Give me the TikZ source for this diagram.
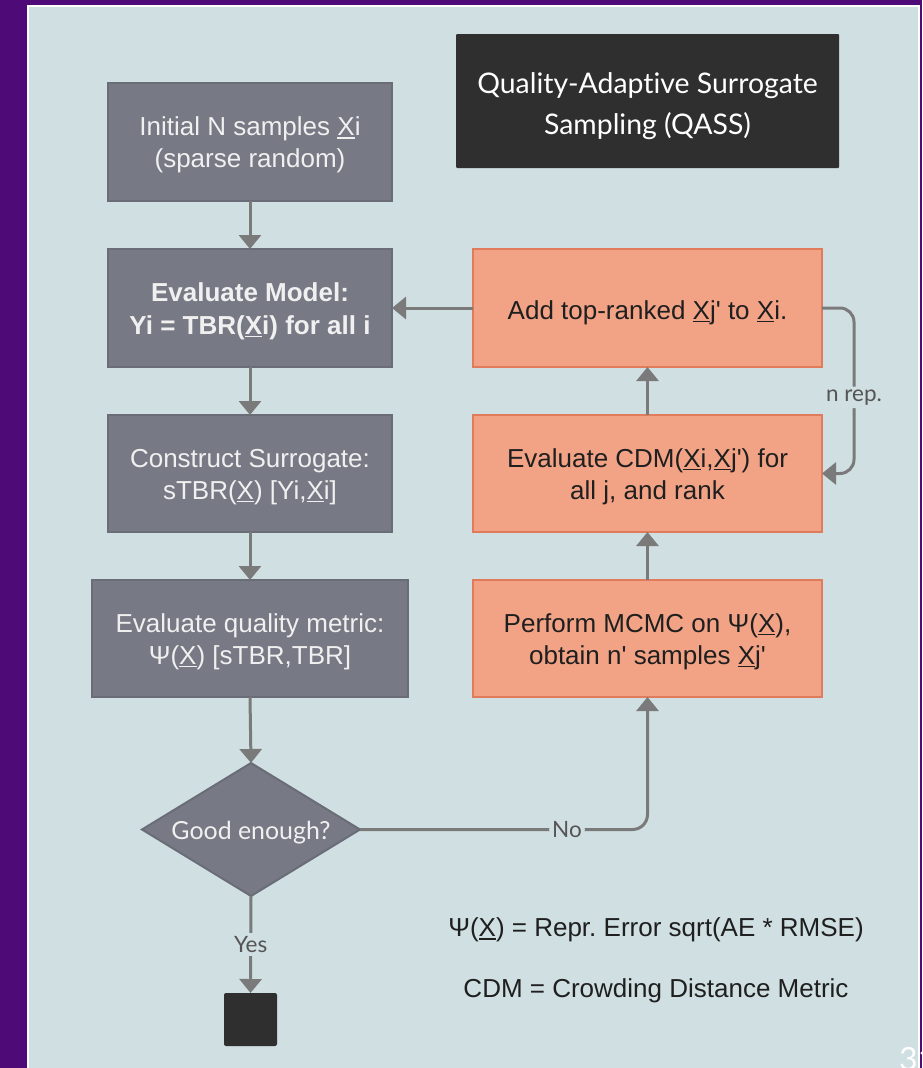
\documentclass[tikz,border=0pt]{standalone}
\usepackage{fontspec}
\setmainfont{Liberation Sans}
\newfontfamily\lato[Ligatures=NoCommon]{Lato}
\usetikzlibrary{arrows.meta,shapes.geometric}
\frenchspacing

\definecolor{slidebg}{HTML}{4E0A76}
\definecolor{panel}{HTML}{CFDFE2}
\definecolor{greyfill}{HTML}{777A85}
\definecolor{greyline}{HTML}{6A6D77}
\definecolor{greytext}{HTML}{F0F0F0}
\definecolor{darkfill}{HTML}{2F2F2F}
\definecolor{orangefill}{HTML}{F2A386}
\definecolor{orangeline}{HTML}{E07B5B}
\definecolor{arrowgrey}{HTML}{7A7A7A}
\definecolor{labelgrey}{HTML}{555555}
\definecolor{legendtext}{HTML}{1F1F1F}

% underlined X with a heavier rule
\newsavebox\ulbox
\newcommand\uX{\sbox\ulbox{X}\rlap{\rule[-3pt]{\wd\ulbox}{1.6pt}}X}
% straight apostrophe
\newcommand\ap{\textquotesingle}
% taller first line, to sit the text a little low in its box
\newcommand\toprule[1]{\rule{0pt}{#1}}

\tikzset{
  boxfont/.style={font={\fontsize{26}{32}\selectfont}},
  greybox/.style={boxfont, draw=greyline, line width=2pt, fill=greyfill,
    text=greytext, align=center, inner sep=0pt, outer sep=0pt},
  orangebox/.style={boxfont, draw=orangeline, line width=2pt, fill=orangefill,
    text=legendtext, align=center, inner sep=0pt, outer sep=0pt},
  flow/.style={draw=arrowgrey, line width=3pt,
    -{Triangle[width=22pt,length=14pt]}},
  flowlabel/.style={font={\lato\fontsize{22.5}{26}\selectfont}, text=labelgrey,
    fill=panel, inner sep=3pt},
}

\begin{document}
\begin{tikzpicture}[x=1pt,y=-1pt]
\clip (0,0) rectangle (922,1068);
\useasboundingbox (0,0) rectangle (922,1068);
% slide background and content panel
\fill[slidebg] (0,0) rectangle (922,1068);
\draw[white, line width=2pt, fill=panel] (28,6) rectangle (918.5,1080);

% title
\node[fill=darkfill, text=white, minimum width=383pt, minimum height=134pt,
  inner sep=0pt, rounded corners=1pt, align=center,
  font={\lato\fontsize{28.4}{41}\selectfont}] (qass) at (647.5,101)
  {\toprule{31pt}Quality-Adaptive Surrogate\\Sampling (QASS)};

% left column
\node[greybox, minimum width=284pt, minimum height=118pt] (init) at (250,142)
  {\toprule{25pt}Initial N samples \uX i\\(sparse random)};
\node[greybox, minimum width=284pt, minimum height=118pt, font={\bfseries\fontsize{26}{33}\selectfont}] (evm) at (250,308)
  {\toprule{25pt}Evaluate Model:\\Yi = TBR(\uX i) for all i};
\node[greybox, minimum width=284pt, minimum height=117pt] (cons) at (250,473.5)
  {\toprule{25pt}Construct Surrogate:\\sTBR(\uX) [Yi,\uX i]};
\node[greybox, minimum width=316pt, minimum height=117pt] (qual) at (250,638.5)
  {\toprule{25pt}Evaluate quality metric:\\Ψ(\uX) [sTBR,TBR]};
\node[diamond, draw=greyline, line width=2pt, fill=greyfill, aspect=1.64,
  minimum width=218pt, minimum height=133pt, inner sep=0pt, outer sep=0pt] (dia) at (251,829.5) {};
\node[text=greytext, font={\lato\fontsize{24.9}{30}\selectfont}] (diatext) at ([yshift=-3pt]dia.center) {Good enough?};
\node[fill=darkfill, minimum width=53pt, minimum height=53pt, inner sep=0pt,
  outer sep=0pt, rounded corners=2pt] (stop) at (250.5,1019.5) {};

% right column
\node[orangebox, minimum width=349pt, minimum height=118pt] (add) at (647.5,308)
  {\toprule{28pt}Add top-ranked \uX j\ap{} to \uX i.};
\node[orangebox, minimum width=349pt, minimum height=117pt] (cdm) at (647.5,473.5)
  {\toprule{25pt}Evaluate CDM(\uX i,\uX j\ap) for\\all j, and rank};
\node[orangebox, minimum width=349pt, minimum height=117pt] (mcmc) at (647.5,638.5)
  {\toprule{25pt}Perform MCMC on Ψ(\uX),\\obtain n\ap{} samples \uX j\ap};

% connectors
\draw[flow] (init) -- (evm);
\draw[flow] (evm) -- (cons);
\draw[flow] (cons) -- (qual);
\draw[flow] (qual.south) -- (dia.north);
\draw[flow] (dia.south) -- (stop.north) node[flowlabel, pos=0.5] {Yes};
\draw[flow, rounded corners=15pt] (dia.east) -| (mcmc.south)
  node[flowlabel, pos=0.36] {No};
\draw[flow] (mcmc) -- (cdm);
\draw[flow] (cdm) -- (add);
\draw[flow] (add) -- (evm);
\draw[flow, rounded corners=14pt] (add.east) -- ++(32,0) |- (cdm.east)
  node[flowlabel, pos=0.27] {n rep.};

% legend
\node[text=legendtext, font={\fontsize{26}{31}\selectfont}] (leg1) at (656,930)
  {Ψ(\uX) = Repr. Error sqrt(AE * RMSE)};
\node[text=legendtext, font={\fontsize{26}{31}\selectfont}] (leg2) at (656,991)
  {CDM = Crowding Distance Metric};

% slide number, running off the lower edge
\node[text=white, font={\lato\fontsize{32}{36}\selectfont}, anchor=base west,
  inner sep=0pt] (pgno) at (899,1070) {31};
\end{tikzpicture}
\end{document}
